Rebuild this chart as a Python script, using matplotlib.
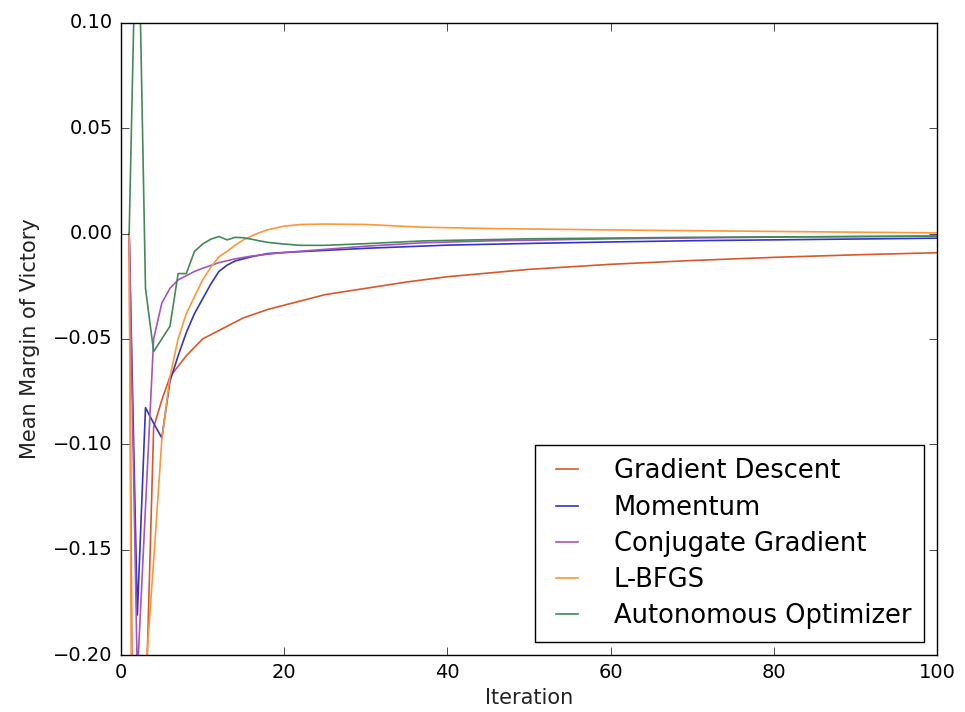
import matplotlib
matplotlib.use("Agg")
import matplotlib.pyplot as plt
from matplotlib.ticker import FuncFormatter

# values, per method: (iteration, mean margin)
gd_iter = [1, 2, 3, 4, 5, 6, 7, 8, 9, 10, 12, 15, 18, 20, 25, 30, 35, 40, 50, 60, 70, 80, 90, 100]
gd_vals = [0, -0.6, -0.23, -0.092, -0.079, -0.068, -0.063, -0.058, -0.054, -0.050, -0.046, -0.040,
           -0.036, -0.034, -0.029, -0.026, -0.023, -0.0205, -0.017, -0.0146, -0.0128, -0.0113, -0.0101, -0.0091]

mom_iter = [1, 2, 3, 4, 5, 6, 7, 8, 9, 10, 11, 12, 13, 14, 15, 16, 18, 20, 25, 30, 40, 50, 60, 70, 80, 90, 100]
mom_vals = [0, -0.181, -0.0826, -0.09, -0.097, -0.07, -0.058, -0.047, -0.038, -0.031, -0.024, -0.018, -0.015,
            -0.013, -0.012, -0.011, -0.0095, -0.009, -0.008, -0.007, -0.0055, -0.0047, -0.004, -0.0034,
            -0.003, -0.0026, -0.0022]

cg_iter = [1, 2, 3, 4, 5, 6, 7, 8, 9, 10, 12, 14, 16, 18, 20, 25, 30, 37, 45, 60, 80, 100]
cg_vals = [0, -0.21, -0.13, -0.05, -0.033, -0.026, -0.022, -0.020, -0.018, -0.0165, -0.0138, -0.012,
           -0.0107, -0.0098, -0.009, -0.0075, -0.006, -0.0044, -0.0035, -0.0025, -0.0017, -0.0012]

lbfgs_iter = [1, 2, 3, 4, 5, 6, 7, 8, 9, 10, 11, 12, 13, 14, 15, 16, 17, 18, 20, 22, 25, 30, 37, 45, 60, 80, 100]
lbfgs_vals = [0, -0.8, -0.21, -0.155, -0.098, -0.068, -0.05, -0.038, -0.03, -0.022, -0.016, -0.011, -0.0085,
              -0.0055, -0.003, -0.0012, 0.0005, 0.0018, 0.0035, 0.0043, 0.0045, 0.0043, 0.0030, 0.0024,
              0.0017, 0.001, 0.0003]

auto_iter = [1, 2, 3, 4, 5, 6, 7, 8, 9, 10, 11, 12, 13, 14, 15, 16, 17, 18, 20, 22, 25, 30, 37, 50, 70, 100]
auto_vals = [0, 0.18, -0.026, -0.056, -0.05, -0.044, -0.019, -0.019, -0.0085, -0.005, -0.0027, -0.0014, -0.003,
             -0.0018, -0.002, -0.0027, -0.0035, -0.0042, -0.005, -0.0056, -0.0056, -0.0048, -0.0035, -0.0025,
             -0.0018, -0.0012]

plt.style.use("classic")
plt.rcParams["font.family"] = "DejaVu Sans"

fig = plt.figure(figsize=(9.65, 7.12), dpi=100, facecolor="white")
ax = fig.add_axes([0.1254, 0.080, 0.8456, 0.888])
ax.set_facecolor("white")

ax.plot(gd_iter, gd_vals, color="#d9582a", lw=1.2, label="Gradient Descent")
ax.plot(mom_iter, mom_vals, color="#3434c8", lw=1.2, label="Momentum")
ax.plot(cg_iter, cg_vals, color="#a555bd", lw=1.2, label="Conjugate Gradient")
ax.plot(lbfgs_iter, lbfgs_vals, color="#ff9638", lw=1.2, label="L-BFGS")
ax.plot(auto_iter, auto_vals, color="#43895a", lw=1.2, label="Autonomous Optimizer")

ax.set_xlim(0, 100)
ax.set_ylim(-0.20, 0.10)
ax.set_xticks([0, 20, 40, 60, 80, 100])
ax.set_yticks([-0.20, -0.15, -0.10, -0.05, 0.00, 0.05, 0.10])
# unicode minus like the original
ax.yaxis.set_major_formatter(FuncFormatter(lambda v, p: f"{v:.2f}".replace("-", "\u2212")))
ax.tick_params(direction="in", length=6, labelsize=14, top=True, right=True, pad=6)

ax.set_xlabel("Iteration", fontsize=15, labelpad=4, color="#222222")
ax.set_ylabel("Mean Margin of Victory", fontsize=15, labelpad=9, color="#222222")

ax.legend(loc="lower right", fontsize=18.5, frameon=True, fancybox=False,
          edgecolor="black", handlelength=1.45, handletextpad=1.1,
          labelspacing=0.4, borderpad=0.5, borderaxespad=0.5)

plt.savefig("out.png", dpi=100, facecolor="white")
